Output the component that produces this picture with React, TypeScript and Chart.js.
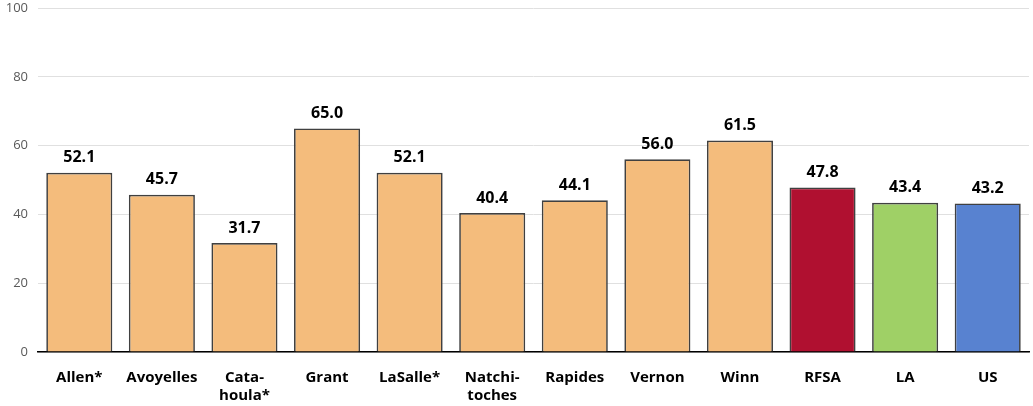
import React, { useEffect, useRef } from "react";
import { Chart, registerables } from "chart.js";

Chart.register(...registerables);

const categories: (string | string[])[] = [
  "Allen*", "Avoyelles", ["Cata-", "houla*"], "Grant", "LaSalle*",
  ["Natchi-", "toches"], "Rapides", "Vernon", "Winn", "RFSA", "LA", "US",
];
const values = [52.1, 45.7, 31.7, 65.0, 52.1, 40.4, 44.1, 56.0, 61.5, 47.8, 43.4, 43.2];
const barColors = [
  "#F4BC7C", "#F4BC7C", "#F4BC7C", "#F4BC7C", "#F4BC7C", "#F4BC7C",
  "#F4BC7C", "#F4BC7C", "#F4BC7C", "#B01030", "#9FD066", "#5882D0",
];
const yTicks = [0, 20, 40, 60, 80, 100];

const FONT = "'Open Sans', 'Noto Sans', sans-serif";

const valueLabels = {
  id: "valueLabels",
  afterDatasetsDraw(chart: any) {
    const ctx = chart.ctx;
    const meta = chart.getDatasetMeta(0);
    ctx.save();
    ctx.font = `bold 16px ${FONT}`;
    ctx.fillStyle = "#000";
    ctx.textAlign = "center";
    ctx.textBaseline = "bottom";
    meta.data.forEach((bar: any, i: number) => {
      ctx.fillText(values[i].toFixed(1), bar.x, bar.y - 7);
    });
    ctx.restore();
  },
};

export default function App() {
  const ref = useRef<HTMLCanvasElement>(null);
  useEffect(() => {
    document.body.style.margin = "0";
    const chart = new Chart(ref.current!, {
      type: "bar",
      data: {
        labels: categories,
        datasets: [
          {
            data: values,
            backgroundColor: barColors,
            borderColor: "#404040",
            borderWidth: 1.7,
            barPercentage: 0.8,
            categoryPercentage: 1,
          },
        ],
      },
      options: {
        animation: false,
        responsive: false,
        maintainAspectRatio: false,
        layout: { padding: { top: 8, right: 4, left: 0, bottom: 0 } },
        plugins: { legend: { display: false }, tooltip: { enabled: false } },
        scales: {
          x: {
            grid: { display: false, drawTicks: false },
            border: { color: "#000", width: 1.5 },
            ticks: {
              color: "#000",
              font: { family: FONT, size: 15, weight: "bold", lineHeight: 1.2 },
              padding: 17,
              maxRotation: 0,
              autoSkip: false,
            },
            afterFit: (s: any) => { s.height = 54; s.paddingLeft = 0; s.paddingRight = 0; },
          },
          y: {
            min: 0,
            max: 100,
            afterBuildTicks: (s: any) => { s.ticks = yTicks.map((v) => ({ value: v })); },
            grid: { color: "#e0e0e0", drawTicks: false },
            border: { display: false },
            ticks: {
              color: "#595959",
              font: { family: FONT, size: 13 },
              padding: 10,
            },
            afterFit: (s: any) => { s.width = 38; s.paddingTop = 0; s.paddingBottom = 0; },
          },
        },
      },
      plugins: [valueLabels],
    });
    return () => chart.destroy();
  }, []);
  return (
    <div style={{ position: "fixed", left: 0, top: 0, width: 1033, height: 406 }}>
      <canvas ref={ref} width={1033} height={406} style={{ display: "block" }} />
    </div>
  );
}
